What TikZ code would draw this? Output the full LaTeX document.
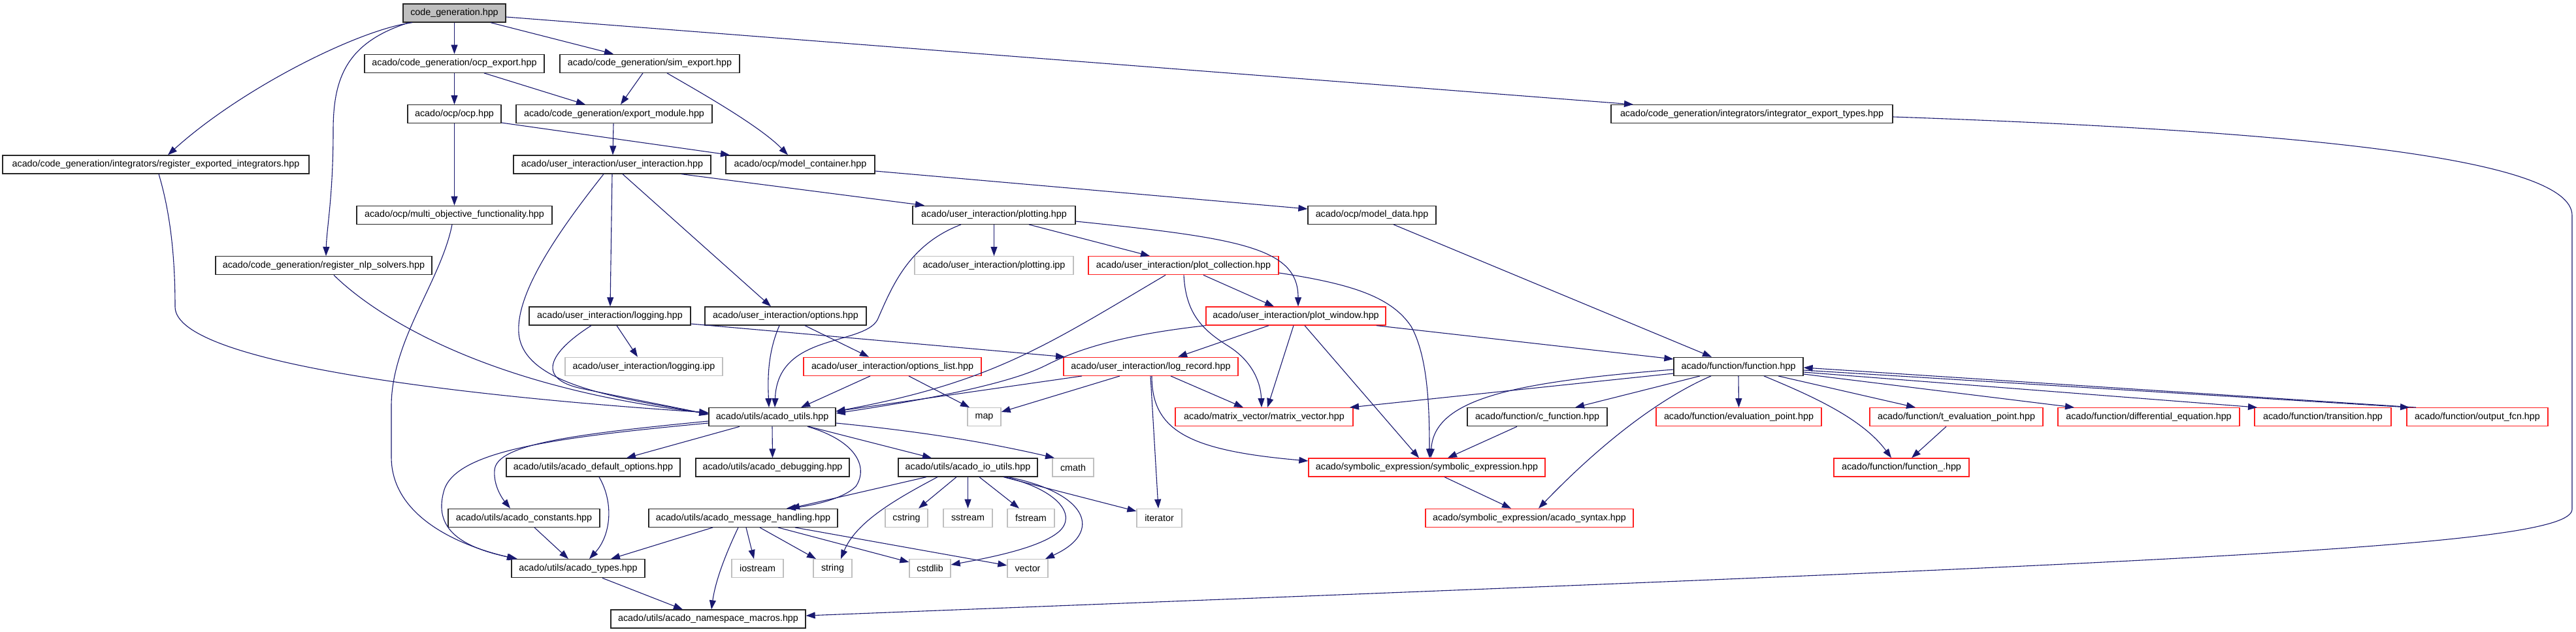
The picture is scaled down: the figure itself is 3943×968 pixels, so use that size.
\documentclass[tikz,border=0pt]{standalone}
\usepackage{fontspec}
\setmainfont{Liberation Sans}
\usetikzlibrary{arrows.meta}
\definecolor{edgec}{HTML}{191970}
\definecolor{grayb}{HTML}{BFBFBF}
\definecolor{redb}{HTML}{FF2020}
\begin{document}
\begin{tikzpicture}[x=1pt,y=-1pt,
  nb/.style={draw=black!85, line width=1.3pt, minimum height=28pt, inner sep=0pt, font=\fontsize{14.3}{17}\selectfont, text=black},
  rn/.style={nb, draw=redb},
  gn/.style={nb, draw=grayb},
  e/.style={draw=edgec, line width=1.1pt, -{Triangle[length=14pt,width=10pt]}}]
\fill[white] (0,0) rectangle (3943,968);
\useasboundingbox (0,0) rectangle (3943,968);
% row 0
\node[nb, fill=grayb, minimum width=157] (cg) at (695.5,20) {code\_generation.hpp};
% row 1
\node[nb, minimum width=275] (ocpexp) at (695.5,97.3) {acado/code\_generation/ocp\_export.hpp};
\node[nb, minimum width=275] (simexp) at (994.5,97.3) {acado/code\_generation/sim\_export.hpp};
% row 2
\node[nb, minimum width=143] (ocp) at (695.5,174.7) {acado/ocp/ocp.hpp};
\node[nb, minimum width=300] (expmod) at (940,174.7) {acado/code\_generation/export\_module.hpp};
\node[nb, minimum width=431] (iet) at (2681.5,174.7) {acado/code\_generation/integrators/integrator\_export\_types.hpp};
% row 3
\node[nb, minimum width=469] (rei) at (238.5,252) {acado/code\_generation/integrators/register\_exported\_integrators.hpp};
\node[nb, minimum width=302] (ui) at (937,252) {acado/user\_interaction/user\_interaction.hpp};
\node[nb, minimum width=228] (mc) at (1225,252) {acado/ocp/model\_container.hpp};
% row 4
\node[nb, minimum width=299] (mof) at (695.5,329.3) {acado/ocp/multi\_objective\_functionality.hpp};
\node[nb, minimum width=249] (plotting) at (1521.5,329.3) {acado/user\_interaction/plotting.hpp};
\node[nb, minimum width=196] (md) at (2100,329.3) {acado/ocp/model\_data.hpp};
% row 5
\node[nb, minimum width=331] (rns) at (495.5,406.7) {acado/code\_generation/register\_nlp\_solvers.hpp};
\node[gn, minimum width=243] (pipp) at (1521.5,406.7) {acado/user\_interaction/plotting.ipp};
\node[rn, minimum width=291] (pcoll) at (1811.5,406.7) {acado/user\_interaction/plot\_collection.hpp};
% row 6
\node[nb, minimum width=247] (logging) at (933.5,484) {acado/user\_interaction/logging.hpp};
\node[nb, minimum width=247] (options) at (1202.5,484) {acado/user\_interaction/options.hpp};
\node[rn, minimum width=275] (pwin) at (1983.5,484) {acado/user\_interaction/plot\_window.hpp};
% row 7
\node[gn, minimum width=241] (lipp) at (985.5,561.3) {acado/user\_interaction/logging.ipp};
\node[rn, minimum width=272] (olist) at (1366,561.3) {acado/user\_interaction/options\_list.hpp};
\node[rn, minimum width=267] (logrec) at (1761.5,561.3) {acado/user\_interaction/log\_record.hpp};
\node[nb, minimum width=198] (func) at (2661,561.3) {acado/function/function.hpp};
% row 8
\node[nb, minimum width=194] (utils) at (1182,638.7) {acado/utils/acado\_utils.hpp};
\node[gn, minimum width=51] (map) at (1506.5,638.7) {map};
\node[rn, minimum width=272] (mv) at (1935,638.7) {acado/matrix\_vector/matrix\_vector.hpp};
\node[nb, minimum width=214] (cfunc) at (2353,638.7) {acado/function/c\_function.hpp};
\node[rn, minimum width=253] (evp) at (2661.5,638.7) {acado/function/evaluation\_point.hpp};
\node[rn, minimum width=265] (tevp) at (2994.5,638.7) {acado/function/t\_evaluation\_point.hpp};
\node[rn, minimum width=278] (de) at (3289,638.7) {acado/function/differential\_equation.hpp};
\node[rn, minimum width=209] (trans) at (3555.5,638.7) {acado/function/transition.hpp};
\node[rn, minimum width=216] (ofcn) at (3792,638.7) {acado/function/output\_fcn.hpp};
% row 9
\node[nb, minimum width=266] (defopt) at (908,716) {acado/utils/acado\_default\_options.hpp};
\node[nb, minimum width=235] (dbg) at (1182.5,716) {acado/utils/acado\_debugging.hpp};
\node[nb, minimum width=213] (io) at (1481.5,716) {acado/utils/acado\_io\_utils.hpp};
\node[gn, minimum width=63] (cmath) at (1642.5,716) {cmath};
\node[rn, minimum width=362] (symexp) at (2184,716) {acado/symbolic\_expression/symbolic\_expression.hpp};
\node[rn, minimum width=207] (funcu) at (2910.5,716) {acado/function/function\_.hpp};
% row 10
\node[nb, minimum width=232] (consts) at (802,793.3) {acado/utils/acado\_constants.hpp};
\node[nb, minimum width=289] (msg) at (1137.5,793.3) {acado/utils/acado\_message\_handling.hpp};
\node[gn, minimum width=65] (cstring) at (1387.5,793.3) {cstring};
\node[gn, minimum width=75] (sstream) at (1481.5,793.3) {sstream};
\node[gn, minimum width=72] (fstream) at (1578,793.3) {fstream};
\node[gn, minimum width=69] (iterator) at (1774.5,793.3) {iterator};
\node[rn, minimum width=318] (syntax) at (2341,793.3) {acado/symbolic\_expression/acado\_syntax.hpp};
% row 11
\node[nb, minimum width=204] (types) at (885,870.7) {acado/utils/acado\_types.hpp};
\node[gn, minimum width=79] (iostream) at (1159.5,870.7) {iostream};
\node[gn, minimum width=59] (string) at (1274.5,870.7) {string};
\node[gn, minimum width=63] (cstdlib) at (1423.5,870.7) {cstdlib};
\node[gn, minimum width=62] (vector) at (1573,870.7) {vector};
% row 12
\node[nb, minimum width=298] (ns) at (1084,948) {acado/utils/acado\_namespace\_macros.hpp};

% ---------------- edges ----------------
\draw[e] (cg.south -| 631,0) .. controls (550,45) and (370,135) .. (rei.north -| 257,0);
\draw[e] (cg.south -| 626,0) .. controls (530,65) and (510,120) .. (510,200) .. controls (510,300) and (500,350) .. (rns.north -| 499,0);
\draw[e] (cg.south) -- (ocpexp.north);
\draw[e] (cg.south -| 751,0) -- (simexp.north -| 939,0);
\draw[e] (cg.east |- 0,26) -- (iet.north -| 2500,0);
\draw[e] (ocpexp.south) -- (ocp.north);
\draw[e] (ocpexp.south -| 741,0) -- (expmod.north -| 896,0);
\draw[e] (simexp.south -| 984,0) -- (expmod.north -| 950,0);
\draw[e] (simexp.south -| 1021,0) .. controls (1055,132) and (1160,190) .. (mc.north -| 1206,0);
\draw[e] (ocp.east |- 0,188) -- (mc.north -| 1117,0);
\draw[e] (ocp.south) -- (mof.north);
\draw[e] (expmod.south -| 939,0) -- (ui.north -| 938,0);
\draw[e] (iet.east |- 0,179) .. controls (3500,200) and (3937,240) .. (3937,330) -- (3937,780) .. controls (3937,840) and (3300,862) .. (ns.east |- 0,943);
\draw[e] (rei.south -| 243,0) .. controls (262,330) and (268,400) .. (268,470) .. controls (268,560) and (750,610) .. (utils.west |- 0,632);
\draw[e] (rns.south -| 511,0) .. controls (560,470) and (720,590) .. (utils.west |- 0,633);
\draw[e] (mof.south -| 692,0) .. controls (675,430) and (600,520) .. (599,620) -- (599,700) .. controls (599,790) and (700,835) .. (types.north -| 790,0);
\draw[e] (ui.south -| 1043,0) -- (plotting.north -| 1415,0);
\draw[e] (ui.south -| 937,0) -- (logging.north -| 934,0);
\draw[e] (ui.south -| 953,0) -- (options.north -| 1180,0);
\draw[e] (ui.south -| 924,0) .. controls (850,360) and (790,450) .. (794,510) .. controls (800,590) and (950,610) .. (utils.west |- 0,634);
\draw[e] (mc.east |- 0,262) -- (md.west |- 0,320);
\draw[e] (plotting.south) -- (pipp.north);
\draw[e] (plotting.south -| 1575,0) -- (pcoll.north -| 1760,0);
\draw[e] (plotting.east |- 0,339) .. controls (1900,365) and (1987,380) .. (pwin.north -| 1987,0);
\draw[e] (plotting.south -| 1471,0) .. controls (1390,375) and (1365,440) .. (1343,490) .. controls (1320,530) and (1190,510) .. (utils.north -| 1186,0);
\draw[e] (md.south -| 2133,0) -- (func.north -| 2620,0);
\draw[e] (pcoll.south -| 1842,0) -- (pwin.north -| 1950,0);
\draw[e] (pcoll.south -| 1784,0) .. controls (1600,530) and (1520,585) .. (utils.east |- 0,630);
\draw[e] (pcoll.south -| 1812,0) .. controls (1815,480) and (1840,505) .. (1880,530) .. controls (1920,555) and (1930,590) .. (mv.north -| 1931,0);
\draw[e] (pcoll.east |- 0,418) .. controls (2070,435) and (2130,455) .. (2160,500) .. controls (2185,545) and (2188,620) .. (symexp.north -| 2188,0);
\draw[e] (logging.south -| 944,0) -- (lipp.north -| 976,0);
\draw[e] (logging.south -| 905,0) .. controls (840,540) and (820,580) .. (890,595) .. controls (950,608) and (1040,625) .. (utils.west |- 0,635);
\draw[e] (logging.east |- 0,496) -- (logrec.north -| 1630,0);
\draw[e] (options.south -| 1193,0) .. controls (1175,540) and (1175,580) .. (utils.north -| 1177,0);
\draw[e] (options.south -| 1232,0) -- (olist.north -| 1330,0);
\draw[e] (pwin.south -| 1942,0) -- (logrec.north -| 1803,0);
\draw[e] (pwin.south west) .. controls (1700,515) and (1640,540) .. (1600,560) .. controls (1540,590) and (1400,615) .. (utils.east |- 0,633);
\draw[e] (pwin.south -| 1980,0) -- (mv.north -| 1940,0);
\draw[e] (pwin.south -| 1997,0) -- (symexp.north -| 2172,0);
\draw[e] (pwin.south -| 2107,0) -- (func.west |- 0,550);
\draw[e] (olist.south -| 1332,0) -- (utils.north -| 1226,0);
\draw[e] (olist.south -| 1391,0) -- (map.north -| 1484,0);
\draw[e] (logrec.south -| 1656,0) -- (utils.east |- 0,630);
\draw[e] (logrec.south -| 1714,0) -- (map.east |- 0,631);
\draw[e] (logrec.south -| 1792,0) -- (mv.north -| 1903,0);
\draw[e] (logrec.south -| 1761,0) -- (iterator.north -| 1773,0);
\draw[e] (logrec.south -| 1763,0) .. controls (1763,660) and (1820,690) .. (symexp.west |- 0,706);
\draw[e] (func.west |- 0,572) -- (mv.north -| 2066,0);
\draw[e] (func.west |- 0,566) .. controls (2320,585) and (2195,610) .. (symexp.north -| 2190,0);
\draw[e] (func.south -| 2602,0) -- (cfunc.north -| 2411,0);
\draw[e] (func.south) -- (evp.north);
\draw[e] (func.south -| 2722,0) -- (tevp.north -| 2932,0);
\draw[e] (func.south -| 2700,0) .. controls (2770,605) and (2850,640) .. (funcu.north -| 2895,0);
\draw[e] (func.east |- 0,573) -- (de.north -| 3175,0);
\draw[e] (func.east |- 0,570) -- (trans.north -| 3455,0);
\draw[e] (func.east |- 0,567) -- (ofcn.north -| 3688,0);
\draw[e] (ofcn.north -| 3698,0) -- (func.east |- 0,563);
\draw[e] (func.south -| 2619,0) .. controls (2540,610) and (2450,680) .. (syntax.north -| 2355,0);
\draw[e] (cfunc.south -| 2322,0) -- (symexp.north -| 2216,0);
\draw[e] (tevp.south -| 2979,0) -- (funcu.north -| 2926,0);
\draw[e] (symexp.south -| 2211,0) -- (syntax.north -| 2313,0);
\draw[e] (utils.south -| 1132,0) -- (defopt.north -| 959,0);
\draw[e] (utils.south) -- (dbg.north);
\draw[e] (utils.south -| 1238,0) -- (io.north -| 1426,0);
\draw[e] (utils.east |- 0,648) .. controls (1400,660) and (1500,675) .. (cmath.north -| 1614,0);
\draw[e] (utils.south -| 1236,0) .. controls (1310,675) and (1330,715) .. (1310,745) .. controls (1290,765) and (1240,775) .. (msg.north -| 1204,0);
\draw[e] (utils.west |- 0,645) .. controls (880,665) and (760,680) .. (757,720) .. controls (755,745) and (770,765) .. (consts.north -| 781,0);
\draw[e] (utils.west |- 0,648) .. controls (850,670) and (700,690) .. (680,750) .. controls (665,800) and (690,835) .. (types.north -| 792,0);
\draw[e] (defopt.south -| 917,0) .. controls (940,770) and (935,820) .. (types.north -| 902,0);
\draw[e] (consts.south -| 818,0) -- (types.north -| 870,0);
\draw[e] (io.south -| 1464,0) -- (cstring.north -| 1406,0);
\draw[e] (io.south) -- (sstream.north);
\draw[e] (io.south -| 1499,0) -- (fstream.north -| 1560,0);
\draw[e] (io.south -| 1536,0) -- (iterator.west |- 0,783);
\draw[e] (io.south -| 1538,0) .. controls (1620,750) and (1650,790) .. (1620,815) .. controls (1590,840) and (1510,855) .. (cstdlib.east |- 0,865);
\draw[e] (io.south -| 1543,0) .. controls (1665,755) and (1690,815) .. (vector.north -| 1600,0);
\draw[e] (io.south -| 1418,0) -- (msg.north -| 1210,0);
\draw[e] (io.south -| 1435,0) .. controls (1370,765) and (1310,800) .. (string.north -| 1287,0);
\draw[e] (msg.south -| 1091,0) -- (types.north -| 935,0);
\draw[e] (msg.south -| 1130,0) .. controls (1110,850) and (1095,890) .. (ns.north -| 1089,0);
\draw[e] (msg.south -| 1142,0) -- (iostream.north -| 1154,0);
\draw[e] (msg.south -| 1163,0) -- (string.north -| 1249,0);
\draw[e] (msg.south -| 1191,0) -- (cstdlib.west |- 0,861);
\draw[e] (msg.south -| 1217,0) -- (vector.west |- 0,866);
\draw[e] (types.south -| 922,0) -- (ns.north -| 1045,0);
\end{tikzpicture}
\end{document}
